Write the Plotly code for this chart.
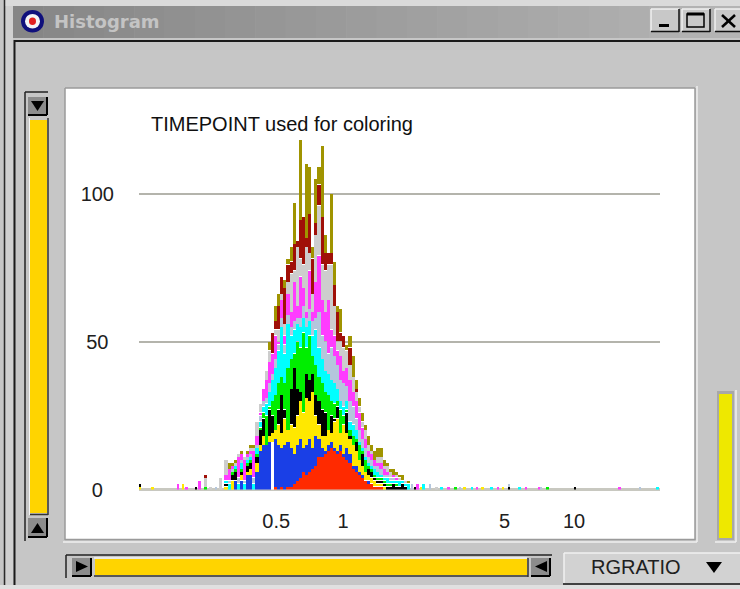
import numpy as np
import plotly.graph_objects as go

W, H = 740, 589

# ---------- data: cumulative top of each colour layer per histogram bin (counts) ----------
BIN_START_LOG10 = -0.5065
BIN_WIDTH_LOG10 = 0.01342
TOP_RED = [0]*16 + [1,0,1,0,1,1,2,3,4,6,5,6,7,8,11,11,12,13,14,13,12,13,11,10,9,7,6,5,4,3,2,2,1,1,1,0,0,0,0,0,0,0,0,0]
TOP_BLUE = [0,0,0,3,0,3,0,5,5,0,6,13,15,15,16,16,17,15,14,15,16,14,12,15,17,14,15,17,14,18,17,14,13,15,16,14,13,15,12,14,12,8,8,6,5,3,3,2,1,1,1,0,0,0,0,0,0,0,0,0]
TOP_YELLOW = [1,0,3,3,0,5,0,6,7,0,9,15,18,14,18,19,20,22,19,24,20,22,21,25,30,26,31,30,33,25,22,18,18,20,19,23,24,19,22,19,17,15,13,10,8,6,5,4,3,2,2,1,0,0,0,0,0,0,0,0]
TOP_BLACK = [2,0,5,6,0,6,0,8,9,0,11,20,24,14,27,25,20,27,32,27,20,34,41,34,33,26,39,37,39,32,30,27,26,20,25,24,28,19,22,26,18,15,16,10,12,6,7,6,4,3,3,2,1,1,2,1,1,2,1,0]
TOP_GREEN = [2,0,6,7,0,7,0,9,10,0,12,21,26,25,28,30,32,36,38,36,41,44,46,50,48,53,48,52,45,42,38,36,33,32,30,29,30,27,25,27,20,18,17,15,13,10,8,7,5,4,4,3,2,2,2,2,1,2,1,0]
TOP_CYAN = [3,2,6,8,2,9,2,10,11,2,14,23,28,29,33,37,41,47,55,46,56,52,54,56,55,58,55,57,52,54,48,44,40,39,37,36,34,30,28,30,23,22,20,16,14,11,9,8,7,6,5,4,4,3,3,3,3,3,2,2]
TOP_STEEL = [3,3,7,8,4,10,3,11,12,4,15,25,30,31,36,39,44,49,58,49,59,55,57,58,58,62,58,61,57,58,60,52,50,46,48,45,42,37,36,35,30,28,24,20,17,14,11,10,8,8,7,5,5,4,4,3,3,3,2,2]
TOP_MAGENTA = [5,7,8,8,11,12,10,12,13,13,18,26,34,37,43,46,52,50,64,52,66,60,70,62,72,68,60,74,60,70,79,64,60,64,54,52,47,45,40,41,37,33,30,26,21,17,13,12,10,9,9,7,6,4,5,4,3,3,2,2]
TOP_GRAY = [10,7,8,9,12,12,11,12,14,14,23,29,34,40,47,46,54,54,66,56,70,73,74,82,78,76,82,80,66,86,96,76,74,76,76,62,50,50,48,47,42,38,33,28,23,20,15,13,10,11,11,8,8,6,5,5,4,3,3,2]
TOP_DARKRED = [10,7,8,9,12,12,11,12,14,14,23,29,34,40,47,53,57,62,72,68,76,77,83,84,91,92,85,93,78,90,103,92,80,80,80,69,60,53,52,47,48,38,34,28,23,20,15,13,10,11,11,8,8,6,5,5,4,3,3,2]
TOP_OLIVE = [10,9,9,10,12,13,11,13,15,15,23,29,34,40,50,53,62,66,72,71,78,82,97,84,118,92,110,109,82,105,109,116,86,80,100,77,62,61,52,49,52,45,37,31,26,22,18,15,13,14,14,10,9,7,7,6,5,5,3,3]

LAYER_NAMES = ["red","blue","yellow","black","green","cyan","steel","magenta","gray","darkred","olive"]
LAYER_COLORS = ["#FF2A00","#1A3FE6","#FFE800","#000000","#00EE00","#00FFFF","#B4C6DC","#FF3CFF","#CDCDCD","#A01008","#A09400"]
LAYER_TOPS = [TOP_RED,TOP_BLUE,TOP_YELLOW,TOP_BLACK,TOP_GREEN,TOP_CYAN,TOP_STEEL,TOP_MAGENTA,TOP_GRAY,TOP_DARKRED,TOP_OLIVE]
GAP_BIN = 15
SEGMENT_INSET = 0.12   # thin white seam between stacked segments, in counts

# sparse tail bars: ratio, count, base, colour
TAIL_RATIO = [0.131,0.131,0.150,0.193,0.203,0.211,0.231,0.240,0.253,0.253,0.253,0.266,0.282,0.296,
              1.99,2.05,2.11,2.18,2.24,2.38,2.53,2.68,2.85,3.06,3.21,3.37,3.62,3.80,
              4.00,4.41,4.69,4.93,5.23,5.23,5.83,6.20,7.05,7.20,7.71,10.1,15.7,19.3,22.9]
TAIL_COUNT = [1,1,1,2,2,1,1,3,1,3,1,1,1,4,
              2,1,2,1,2,2,1,1,1,1,1,1,1,1,
              1,1,1,1,1,1,1,1,1,1,1,1,1,1,1]
TAIL_BASE = [0,1,0,0,0,0,0,0,0,1,4,0,0,0,
             0,0,0,0,0,0,0,0,0,0,0,0,0,0,
             0,0,0,0,0,1,0,0,0,0,0,0,0,0,0]
TAIL_COLOR = ["yellow","black","yellow","magenta","yellow","magenta","black","magenta","green","gray","darkred","gray","steel","gray",
              "steel","black","magenta","yellow","cyan","steel","gray","cyan","magenta","green","steel","yellow","cyan","magenta",
              "yellow","cyan","magenta","yellow","black","steel","cyan","magenta","magenta","steel","green","black","magenta","steel","cyan"]

Y_TICKS = [0, 50, 100]
Y_TICK_TEXT = ["0\u00a0\u00a0", "50\u00a0", "100"]
X_TICK_RATIOS = [0.5, 1, 5, 10]
X_TICK_TEXT = ["\u00a00.5", "1", "5", "10"]
PLOT_TITLE = "TIMEPOINT used for coloring"
WINDOW_TITLE = "Histogram"
VAR_NAME = "RGRATIO"

# ---------- traces ----------
fig = go.Figure()
n_bins = len(TOP_OLIVE)
bin_x = BIN_START_LOG10 + BIN_WIDTH_LOG10*np.arange(n_bins)
base = np.zeros(n_bins)
color_of = dict(zip(LAYER_NAMES, LAYER_COLORS))
for idx, (name, col, top) in enumerate(zip(LAYER_NAMES, LAYER_COLORS, LAYER_TOPS)):
    t = np.maximum(base, np.array(top, dtype=float))
    colors = [col]*n_bins
    if name == "blue":
        colors[GAP_BIN] = "#FFFFFF"
    inset = SEGMENT_INSET if idx >= 2 else 0.0
    h = t-base
    fig.add_trace(go.Bar(x=bin_x, y=np.where(h > 0, h-inset, 0), base=np.where(base > 0, base+inset/2, 0), name=name,
                         width=BIN_WIDTH_LOG10*1.02, marker=dict(color=colors, line=dict(width=0)), showlegend=False))
    base = t
fig.add_trace(go.Bar(x=np.log10(TAIL_RATIO), y=TAIL_COUNT, base=TAIL_BASE, name="tails",
                     width=BIN_WIDTH_LOG10*0.92,
                     marker=dict(color=[color_of[c] for c in TAIL_COLOR], line=dict(width=0)), showlegend=False))

# ---------- window furniture (pixel helpers) ----------
shapes = []
def X(p): return p/W
def Y(p): return 1-p/H
def rect(x0,y0,x1,y1,fill,line=None,lw=1):
    shapes.append(dict(type="rect",xref="paper",yref="paper",x0=X(x0),x1=X(x1),y0=Y(y0),y1=Y(y1),
                       fillcolor=fill,line=dict(color=line or fill,width=lw if line else 0),layer="below"))
def seg(x0,y0,x1,y1,color,lw=1):
    shapes.append(dict(type="line",xref="paper",yref="paper",x0=X(x0),x1=X(x1),y0=Y(y0),y1=Y(y1),
                       line=dict(color=color,width=lw),layer="below"))
def tri(pts,fill="#000000"):
    path="M"+" L".join(f"{X(a):.5f},{Y(b):.5f}" for a,b in pts)+" Z"
    shapes.append(dict(type="path",xref="paper",yref="paper",path=path,fillcolor=fill,line=dict(width=0),layer="below"))
def button(x0,y0,x1,y1,face="#8C8C8C"):
    rect(x0,y0,x1,y1,face)
    seg(x0,y1,x1,y1,"#000000",2); seg(x1,y0,x1,y1,"#000000",2)

# outer frame
rect(0,0,W,6,"#DADADA")
rect(0,0,4,H,"#C6C6C6")
seg(4.5,0,4.5,H,"#2A2A2A",1.5)
rect(6,6,13,H,"#D0D0D0")
seg(14.5,40,14.5,H,"#1A1A1A",2)
rect(0,585,W,H,"#E0E0E0")
# title bar gradient
for i in range(24):
    x0 = 13+i*(W-13)/24; x1 = 13+(i+1)*(W-13)/24
    g = int(0x86+(0xB4-0x86)*i/23)
    rect(x0,6,x1+0.5,38,f"rgb({g},{g},{g})")
seg(14,41,W,41,"#1A1A1A",2)
# icon
shapes.append(dict(type="circle",xref="paper",yref="paper",x0=X(21),x1=X(44),y0=Y(10),y1=Y(32.5),fillcolor="#10107C",line=dict(width=0),layer="below"))
shapes.append(dict(type="circle",xref="paper",yref="paper",x0=X(25),x1=X(40),y0=Y(14),y1=Y(28.5),fillcolor="#F4F4F4",line=dict(width=0),layer="below"))
shapes.append(dict(type="circle",xref="paper",yref="paper",x0=X(29),x1=X(36),y0=Y(17.5),y1=Y(25),fillcolor="#E02020",line=dict(width=0),layer="below"))
# window buttons
for a,b in [(651,679),(682,710),(715,741)]:
    rect(a,9,b,31,"#C8C8C8"); seg(a,9,b,9,"#F0F0F0",1.5); seg(a,9,a,31,"#F0F0F0",1.5)
    seg(a,31.5,b,31.5,"#101010",1.5); seg(b,9,b,32,"#101010",1.5)
rect(659,24,669,27,"#000000")
rect(687,14,704,27,"rgba(0,0,0,0)","#000000",1.5)
seg(687,14,704,14,"#000000",3)
seg(722,15,735,27,"#000000",2.5); seg(735,15,722,27,"#000000",2.5)
# white panel
rect(65,88,695,540,"#FFFFFF")
seg(65,88,695,88,"#9A9A9A",1.5); seg(65,88,65,540,"#9A9A9A",1.5)
seg(695,88,695,540,"#9A9A9A",1.5); seg(65,539.5,695,539.5,"#9A9A9A",1.5)
seg(697,86,697,542,"#EFEFEF",1.5); seg(63,542,697,542,"#EFEFEF",1.5)
# left scrollbar
seg(25,92,25,541,"#222222",1.5); seg(25,92,48,92,"#222222",1.5)
button(28,97,47,115)
tri([(31,101),(44,101),(37.5,111)])
rect(30,120,47,513,"#FFD400")
rect(29,118,30,515,"#F4F4F4")
seg(30,514.5,48,514.5,"#333333",1.5); seg(48,118,48,515,"#333333",1.5)
button(28,518,47,537)
tri([(31,533),(44,533),(37.5,523)])
# bottom scrollbar
seg(66,555,552,555,"#222222",1.5); seg(66,555,66,578,"#222222",1.5)
button(72,558,91,576)
tri([(76,561),(76,572),(88,566.5)])
rect(95,559,527,575,"#FFD400")
seg(94,558,527,558,"#F4F4F4",1.5); seg(94,576,528,576,"#333333",1.5); seg(528,558,528,577,"#333333",1.5)
button(531,558,550,576)
tri([(547,561),(547,572),(535,566.5)])
# right indicator
rect(717,391,734,540,"#A8A8A8")
rect(719,394,732,538,"#EEE800")
seg(736,390,736,542,"#EFEFEF",1.5); seg(715,542,736,542,"#EFEFEF",1.5)
# variable chooser
rect(564,553,741,583,"#D2D2D2")
seg(564,553,741,553,"#F0F0F0",1.5); seg(564,553,564,583,"#F0F0F0",1.5)
seg(563,584,741,584,"#151515",1.5)
tri([(706,562),(722,562),(714,573)])

# ---------- text ----------
annotations = [
    dict(text=PLOT_TITLE, xref="paper", yref="paper", x=X(149), y=Y(124), xanchor="left", yanchor="middle",
         showarrow=False, font=dict(family="Liberation Sans", size=20, color="#101010")),
    dict(text=f"<b>{WINDOW_TITLE}</b>", xref="paper", yref="paper", x=X(52), y=Y(21), xanchor="left", yanchor="middle",
         showarrow=False, font=dict(family="DejaVu Sans", size=18, color="#C4C4C4")),
    dict(text=VAR_NAME, xref="paper", yref="paper", x=X(636), y=Y(567), xanchor="center", yanchor="middle",
         showarrow=False, font=dict(family="Liberation Sans", size=20, color="#202020")),
]

fig.update_layout(
    width=W, height=H, margin=dict(l=0,r=0,t=0,b=0), autosize=False,
    paper_bgcolor="#C6C6C6", plot_bgcolor="rgba(0,0,0,0)",
    barmode="overlay", bargap=0, showlegend=False,
    shapes=shapes, annotations=annotations,
    font=dict(family="Liberation Sans", size=20, color="#202020"),
    xaxis=dict(domain=[139/W,660/W], range=[(139-343)/231,(660-343)/231], type="linear", automargin=False,
               tickmode="array", tickvals=np.log10(X_TICK_RATIOS).tolist(), ticktext=X_TICK_TEXT,
               showgrid=False, zeroline=False, showline=False, ticks="", ticklabelstandoff=17, tickangle=0),
    yaxis=dict(domain=[1-489.5/H,1-118/H], range=[0,(489.5-118)/2.96], type="linear", automargin=False,
               tickmode="array", tickvals=Y_TICKS, ticktext=Y_TICK_TEXT,
               showgrid=True, gridcolor="#B4B4AC", gridwidth=1.5, zeroline=True, zerolinecolor="#C8C8C0", zerolinewidth=2.5,
               showline=False, ticks="", ticklabelstandoff=24),
)

fig.write_html("out.html", config=dict(displayModeBar=False),
               post_script="document.body.style.margin='0';document.body.style.overflow='hidden';")
